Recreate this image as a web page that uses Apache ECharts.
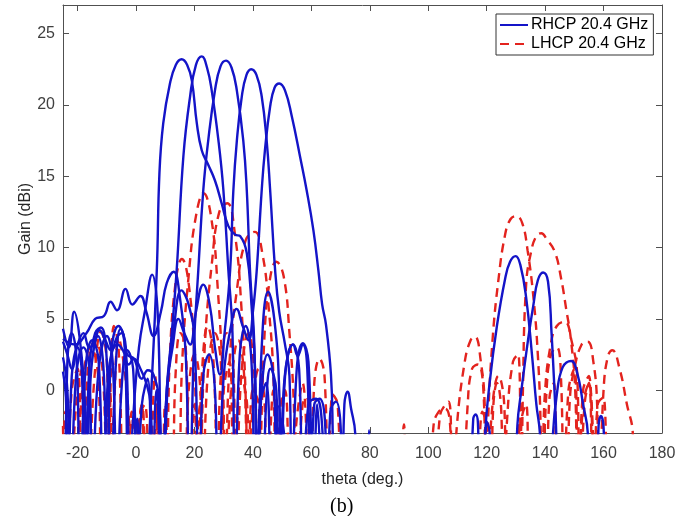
<!DOCTYPE html>
<html><head><meta charset="utf-8">
<script src="https://cdn.jsdelivr.net/npm/echarts@6/dist/echarts.min.js"></script>
<style>html,body{margin:0;padding:0;background:#fff}#c{width:689px;height:516px}</style>
</head><body><div id="c"></div>
<script>
const thetaTicks = [-20, 0, 20, 40, 60, 80, 100, 120, 140, 160, 180];
const gainTicks = [0, 5, 10, 15, 20, 25];
const legendNames = ['RHCP 20.4 GHz', 'LHCP 20.4 GHz'];

// RHCP 20.4 GHz curves: [theta (deg), gain (dBi)]
const rhcp1 = [[-25,1.3],[-24,-0.5],[-23.2,-8],[-22,1],[-20,3.0],[-18.5,1],[-17.6,-8],[-16,1.5],[-14,4.0],[-12,4.4],[-10,2.0],[-8.6,-8],[-7,1.5],[-5.3,4.3],[-3.5,3.0],[-1.8,-8],[0.4,-2.0],[1.6,-8],[3.2,-8],[5,-1],[7.1,8.4],[8.0,15.2],[9.3,18.7],[11.6,21.5],[13.6,22.8],[15.6,23.2],[17.5,22.8],[19.1,21.7],[20.8,18.7],[22.5,16.8],[24.7,15.8],[27,14.7],[29.3,13.1],[31.6,11.5],[33.9,10.9],[35.6,10.8],[37.9,9.6],[39.5,6],[40.8,1],[41.5,-8],[43,3],[45.2,6.9],[47.3,5],[49,0],[49.6,-8],[51,1],[53.7,3.2],[55.8,1.5],[57,-8],[59,-1],[61.6,-0.6],[63.5,-2],[64.5,-8]];
const rhcp2 = [[-25,4.3],[-23,3.0],[-21.2,5.5],[-19.2,3.5],[-17.5,-1],[-17,-8],[-15.5,1.0],[-13,3.8],[-11,1],[-10,-8],[-8.5,2.5],[-6,4.5],[-4,3.5],[-2.6,-8],[-1,-2],[1,3],[3,5.5],[5.5,8.1],[7.5,5],[8.8,-8],[10.5,0],[12,3.5],[13.9,8.4],[16.2,16.4],[18.5,20.6],[20.5,22.8],[22.5,23.4],[24.3,22.6],[25.9,21.0],[28.2,17.5],[29.9,14.0],[31.6,8.4],[33,4],[33.8,-8],[35.5,2.5],[37.5,4.5],[39.5,2],[40.7,-8],[42.5,-1],[44.5,0.5],[46.5,-8],[48.6,-1.1],[50.5,-8]];
const rhcp3 = [[-25,3.6],[-21,3.2],[-17,4.0],[-14,5.0],[-11,5.2],[-8.7,6.2],[-6.5,5.6],[-3.6,7.1],[-1.3,6.0],[1.5,6.6],[3.5,5.5],[6,3.8],[8.5,5.5],[10.5,7.5],[12.9,8.3],[15,6.5],[17,2.5],[18.3,-8],[19.8,3],[21.3,8.4],[23,14],[24.7,17.5],[27,21],[28.9,22.7],[30.8,23.1],[32.7,22.6],[34.5,21],[36.7,17.5],[37.9,14.0],[39,8.4],[40.5,3],[41.4,-8],[43,0],[45,2.5],[47,1],[48.3,-8],[50,-2],[52,-8]];
const rhcp4 = [[-24.2,-8],[-23.5,2],[-22,4.0],[-20.3,2],[-19.2,-8],[-17.3,1.5],[-15,3.5],[-12.8,2],[-11.3,-8],[-9.5,1],[-7,3.5],[-5,4.0],[-3,2.5],[-0.7,2.2],[2,0.8],[4,1.4],[6,1.07],[8,-1],[9,-8],[10.5,0],[12.5,3],[14.5,5],[16.5,4],[18.5,3.2],[20.5,5.5],[23,7.4],[25.2,6],[27,3],[28.7,1.1],[30.3,4],[32.2,8.4],[33.3,14],[34.5,17.5],[36.2,20.6],[37.8,22.1],[39.4,22.5],[41.2,22.1],[43,20.6],[44.7,17.5],[45.9,14],[47.6,8.4],[49,5.5],[50.9,3.3],[52.5,1],[53.3,-8],[55,1.5],[57.1,3.3],[59,2],[60.6,-8],[62,-1],[63.5,-8]];
const rhcp5 = [[-25,2.3],[-23.5,0],[-22.4,-8],[-20.5,1],[-18,3.0],[-16,1.5],[-15,-8],[-13,1],[-10,3.8],[-8,2],[-6.6,-8],[-5,0],[-3,2.8],[-1,1.5],[0.3,-8],[2,-1],[4,0.8],[5.5,-8],[7,0],[9,-8],[11,1],[13,4.5],[15.5,7.0],[18,6.0],[20,3.5],[21.5,-8],[23,1],[25,2.5],[27,0],[28,-8],[30,1],[32.5,4.5],[34.4,5.7],[36.5,4.5],[38.5,3.5],[40,5.5],[41.3,8.4],[43,14],[44.1,16.8],[45.9,19.9],[47.4,21.2],[49,21.5],[51,21],[53.3,19.2],[56.1,16.4],[58.4,14],[60.7,11.2],[62.4,8.4],[63.7,6.0],[65,4.6],[66.7,1.1],[67.3,-2.9],[67.6,-8]];
const rhcp6 = [[-25,3.4],[-23.5,2.5],[-22,1.5],[-20,3.2],[-18,4.0],[-16,3.0],[-14.5,3.3],[-12.5,4.2],[-10.5,3.5],[-8.5,2.8],[-6.5,3.2],[-4.5,2.8],[-2.5,1.8],[-0.7,2.2],[1.5,1.5],[3.5,0.5],[5,-1],[6,-8],[43,-8],[44.5,-1],[46,1.5],[48,0],[49,-8],[50.5,0],[52,2.5],[53.7,3.2],[55.3,2.4],[57,3.2],[58.6,1.5],[59.6,-8],[61,-1],[62.8,-0.6],[64.6,-2],[65.5,-8],[66.5,-1.5],[68.4,-0.8],[70,-2.5],[70.6,-8],[71.3,-1],[72.4,-0.1],[73.6,-1.3],[75,-3],[75.5,-8],[79.2,-8],[79.8,-2.8],[80.3,-8]];
const rhcp7 = [[114.5,-8],[115.4,-2],[116.2,-1.7],[117,-2.3],[117.6,-8],[118.7,-8],[119.5,-3],[121,0.5],[123.5,4.5],[126.3,7.8],[128,9],[129.9,9.4],[131.5,8.8],[133.5,6.5],[135.5,2.5],[137,-1],[138.2,-3],[138.8,-8]];
const rhcp8 = [[119,-8],[120,-2.2],[121,-2.9],[121.6,-8],[129.8,-8],[130.5,-2.5],[132,0.2],[134.2,3.6],[136,6.0],[137.5,7.7],[139.3,8.25],[141,7.6],[142.2,4],[143.2,0],[143.8,-3],[144.2,-8]];
const rhcp9 = [[142,-8],[142.7,-3],[144,-0.3],[146,1.6],[148.9,2.05],[151,1.2],[153,-1],[154.6,-3],[155,-8],[157.6,-8],[158.3,-2.5],[159.1,-1.8],[160,-2.6],[160.6,-8]];

// LHCP 20.4 GHz curves: [theta (deg), gain (dBi)]
const lhcp1 = [[-25,-8],[-24.2,-1.5],[-23.4,-2.4],[-22.5,-8],[-20.5,-1],[-18.5,1.5],[-16.8,-8],[-14.2,1],[-12,4.1],[-10,2],[-9,-8],[-7.5,-1],[-5.9,3.6],[-4,1.5],[-2.5,-2],[-1.5,-8],[1,-2],[3,-1],[4.5,-8],[6.5,1],[8.5,-8],[10,-8],[11.5,2],[13.5,7.5],[15.7,9.2],[18,7.5],[20,2],[21,-8],[22.5,1],[24.5,4.5],[26.5,2],[28,-8],[30,0],[32,2],[33.5,-8],[36,1],[38,-1],[39,-8]];
const lhcp2 = [[-25,-2.5],[-24,-8],[-22,0],[-20,1.5],[-18.5,-8],[-16.5,1.5],[-14,3.5],[-11.5,1.5],[-9.8,-8],[-7.6,4.5],[-6,3],[-4.2,-8],[-2.5,-2],[-1,-8],[2,-1],[4,-8],[6,-3],[7,-8],[14,-8],[15.8,2],[18,8],[20.5,12.2],[23.1,13.8],[25.8,12],[28,7],[29.8,0],[30.5,-8],[32.5,0],[35,3.5],[37,1],[38.3,-8],[40,0],[42,-1],[43,-8]];
const lhcp3 = [[-20.5,-8],[-18,1],[-15.5,3],[-12.8,0.5],[-11.8,-8],[-9,0],[-7.5,-8],[-3.5,-8],[-1.5,-1.5],[0.5,-8],[5,-8],[7,-1],[8.8,-8],[12,-8],[13.5,1],[15.2,4],[17,3],[18.3,-8],[20,-1],[21.5,-8],[23.5,3],[26,9],[28.5,12.5],[31.2,13.1],[33.8,11],[36,6],[37.6,-1],[38.2,-8],[40,-1],[42,1.5],[44,-1],[44.8,-8],[47,0],[48.8,-8]];
const lhcp4 = [[0,-8],[2,-1],[3.8,-8],[8,-8],[10,-1],[11.8,-8],[16,-8],[18,0],[20,2.5],[22,0],[22.8,-8],[24.5,1],[27,4],[29,2],[30.3,-8],[32,2],[34.5,7],[37.5,10.5],[40.6,11.1],[43.3,9.5],[45.3,6],[47,1],[47.8,-8],[49.5,-1],[51,0],[52.8,-8],[55,-2],[57,0.5],[58.8,-8]];
const lhcp5 = [[20,-8],[22,-1],[23.8,-8],[27,-8],[29,1],[31,4],[33,3],[34.3,-8],[36,1],[38.5,4],[40.5,1],[41.8,-8],[44,4],[46,8],[48,9.0],[50.5,8],[52.5,4],[54,-1],[54.8,-8],[57,-1],[58.5,-0.5],[59.8,-8],[61,0.5],[62.8,2.2],[64.5,1],[65.8,-8],[67.3,-0.3],[69,-1],[70,-8]];
const lhcp6 = [[90.5,-8],[91.7,-2.4],[92.8,-8],[100.5,-8],[101.8,-2.5],[103.6,-1.5],[105.8,-1.3],[107.5,-2.5],[108.3,-8],[109.8,-2.5],[112.5,2],[114.5,3.5],[116,3.75],[118,2],[119.3,-1],[119.8,-8],[120.5,-2],[122,3.5],[124,7.7],[126.3,10.9],[128.2,12],[130.2,12.2],[132.2,11.7],[134,9.8],[136,6.5],[137.5,2.5],[138.4,-2],[138.8,-8],[140.5,0],[142,2.5],[144,3],[145.5,0.5],[146.3,-8],[148,0],[150,1.5],[151.3,-8],[153,0],[155,1],[156.3,-8]];
const lhcp7 = [[102.5,-8],[104,-1.8],[107,-0.8],[108.6,-8],[121,-8],[122.3,-1],[123.5,0.5],[125,-1.5],[125.6,-8],[127,-2],[129,2],[130.8,2.5],[131.8,-8],[132.4,0],[133.5,7.4],[135.2,9.7],[137,10.8],[138.7,11],[140.5,10.6],[143.3,9.7],[145.5,7.8],[147.2,5.7],[148.8,3.6],[150.3,0],[151.2,-8],[153,-1],[155,0.5],[156.8,-8]];
const lhcp8 = [[112,-8],[113.5,-1],[115,1.5],[117,1.8],[119,-0.5],[119.8,-8],[122,-1],[124,1],[126,-1],[126.8,-8],[131,-8],[132,-2],[133.5,-1],[134.8,-8],[138,-8],[140,0],[142,3.3],[144,4.5],[146.7,4.8],[149,3.5],[151,1],[151.8,-8],[153.5,-1],[155,0.5],[156.4,-8],[158,-1],[160,-0.5],[161,-8]];
const lhcp9 = [[117.2,-8],[118.5,-1.5],[120,-2.5],[120.8,-8],[130.3,-8],[131,-2.2],[131.8,-8],[140,-8],[141.5,-0.5],[143,0.5],[144.3,-8],[147,-8],[148.5,-0.5],[150,1.5],[152.5,3.2],[154.6,3.4],[156.5,2],[157.8,-1],[158.4,-8],[160,0],[161.5,2.4],[163,2.8],[165.5,1.5],[168,-1],[170,-3],[170.5,-8]];

const rhcpCurves = [rhcp1, rhcp2, rhcp3, rhcp4, rhcp5, rhcp6, rhcp7, rhcp8, rhcp9];
const lhcpCurves = [lhcp1, lhcp2, lhcp3, lhcp4, lhcp5, lhcp6, lhcp7, lhcp8, lhcp9];

const BLUE = '#1414c8';
const RED = '#e3231e';
const AXIS = '#505050';
const FONT = '"Liberation Sans", Arial, sans-serif';

const chart = echarts.init(document.getElementById('c'), null, { renderer: 'canvas' });

function mkSeries(data, name, color, dashed) {
  return {
    type: 'line', name: name, data: data,
    xAxisIndex: 0, yAxisIndex: 0,
    symbol: 'none', showSymbol: false,
    smooth: 0.45, clip: true,
    silent: true, animation: false,
    lineStyle: { color: color, width: 2.4, type: dashed ? [9, 6] : 'solid' },
    itemStyle: { color: color }
  };
}

const series = [];
lhcpCurves.forEach(c => series.push(mkSeries(c, legendNames[1], RED, true)));
rhcpCurves.forEach(c => series.push(mkSeries(c, legendNames[0], BLUE, false)));

const baseX = {
  type: 'value', min: -25, max: 180,
  axisLine: { show: true, onZero: false, lineStyle: { color: AXIS, width: 1 } },
  axisTick: { show: true, inside: true, length: 6, customValues: thetaTicks, lineStyle: { color: AXIS } },
  splitLine: { show: false }
};
const baseY = {
  type: 'value', min: -3, max: 27,
  axisLine: { show: true, onZero: false, lineStyle: { color: AXIS, width: 1 } },
  axisTick: { show: true, inside: true, length: 6, customValues: gainTicks, lineStyle: { color: AXIS } },
  splitLine: { show: false }
};

chart.setOption({
  backgroundColor: '#ffffff',
  animation: false,
  grid: { left: 63, right: 27, top: 5, bottom: 83, containLabel: false },
  xAxis: [
    Object.assign({}, baseX, {
      position: 'bottom',
      name: 'theta (deg.)', nameLocation: 'middle', nameGap: 39, nameMoveOverlap: false,
      nameTextStyle: { fontFamily: FONT, fontSize: 16, color: '#262626' },
      axisLabel: { show: true, customValues: thetaTicks, margin: 13, fontFamily: FONT, fontSize: 16, color: '#404040' }
    }),
    Object.assign({}, baseX, { position: 'top', axisLabel: { show: false } })
  ],
  yAxis: [
    Object.assign({}, baseY, {
      position: 'left',
      name: 'Gain (dBi)', nameLocation: 'middle', nameGap: 29, nameRotate: 90, nameMoveOverlap: false,
      nameTextStyle: { fontFamily: FONT, fontSize: 16, color: '#262626' },
      axisLabel: { show: true, customValues: gainTicks, margin: 8, fontFamily: FONT, fontSize: 16, color: '#404040' }
    }),
    Object.assign({}, baseY, { position: 'right', axisLabel: { show: false } })
  ],
  legend: {
    show: true, data: legendNames, orient: 'vertical',
    left: 496, top: 14, padding: [3, 5, 3, 3], itemGap: 3,
    itemWidth: 28, itemHeight: 16,
    itemStyle: { color: 'rgba(0,0,0,0)', borderWidth: 0, opacity: 0 },
    backgroundColor: '#ffffff', borderColor: '#333333', borderWidth: 1, borderRadius: 0,
    selectedMode: false,
    textStyle: { fontFamily: FONT, fontSize: 16, color: '#000000', padding: [0, 0, 0, -2] }
  },
  graphic: [{
    type: 'text', left: 330, top: 497,
    style: { text: '(b)', font: '20px "Liberation Serif", "Times New Roman", serif', fill: '#000000' }
  }],
  series: series
});
</script>
</body></html>
